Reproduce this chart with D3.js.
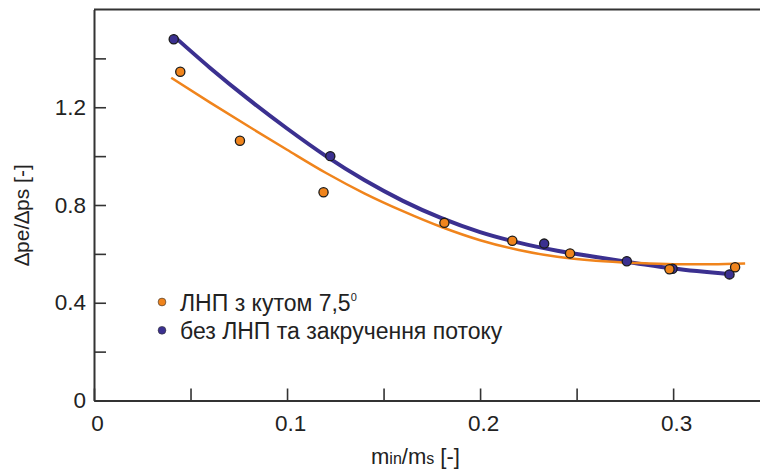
<!DOCTYPE html>
<html lang="uk">

<head>
  <meta charset="UTF-8">
  <script src="https://d3js.org/d3.v7.min.js"></script>
  <title>Δpe/Δps</title>
  <style>
    body {
      margin: 0;
      background: #fff;
    }

    text {
      font-family: "Liberation Sans", Arial, sans-serif;
      fill: #222;
    }
  </style>
</head>

<body>
  <div id="chart"></div>
  <script>
    // Axis ticks
    const xTicks = [0, 0.05, 0.1, 0.15, 0.2, 0.25, 0.3];
    const xLabels = ["0", "", "0.1", "", "0.2", "", "0.3"];
    const yTicks = [0, 0.2, 0.4, 0.6, 0.8, 1.0, 1.2, 1.4];
    const yLabels = ["0", "", "0.4", "", "0.8", "", "1.2", ""];

    // Measured points: ЛНП з кутом 7,5°
    const swirlX = [0.0447, 0.0756, 0.1189, 0.1815, 0.2167, 0.2466, 0.2981, 0.3321];
    const swirlY = [1.345, 1.063, 0.852, 0.727, 0.654, 0.602, 0.537, 0.545];

    // Measured points: без ЛНП та закручення потоку
    const plainX = [0.0413, 0.1224, 0.2332, 0.276, 0.2997, 0.3292];
    const plainY = [1.478, 1.000, 0.642, 0.570, 0.539, 0.516];

    // Trend lines
    const swirlFitX = [0.04, 0.06, 0.08, 0.10, 0.12, 0.14, 0.16, 0.18, 0.20, 0.22, 0.24, 0.26, 0.28, 0.30, 0.32, 0.3373];
    const swirlFitY = [1.321, 1.220, 1.122, 1.026, 0.932, 0.848, 0.775, 0.710, 0.656, 0.616, 0.588, 0.572, 0.563, 0.558, 0.558, 0.561];
    const plainFitX = [0.0415, 0.06, 0.08, 0.10, 0.12, 0.14, 0.16, 0.18, 0.20, 0.22, 0.24, 0.26, 0.28, 0.30, 0.3295];
    const plainFitY = [1.490, 1.362, 1.233, 1.113, 1.001, 0.902, 0.817, 0.746, 0.689, 0.646, 0.613, 0.587, 0.563, 0.540, 0.517];

    const seriesNames = ["ЛНП з кутом 7,5", "без ЛНП та закручення потоку"];
    const orange = "#f0841c";
    const blue = "#3b3090";

    const width = 760;
    const height = 470;

    const svg = d3.select("#chart")
      .append("svg")
      .attr("width", width)
      .attr("height", height);

    const x = d3.scaleLinear().domain([0, 0.345]).range([94, 760]);
    const y = d3.scaleLinear().domain([0, 1.6]).range([400.5, 9.5]);

    // Axes with inward ticks
    const xAxis = svg.append("g")
      .attr("transform", `translate(0,${y(0)})`)
      .call(d3.axisBottom(x)
        .tickValues(xTicks)
        .tickFormat((d, i) => xLabels[i])
        .tickSize(-12)
        .tickSizeOuter(0)
        .tickPadding(15));

    const yAxis = svg.append("g")
      .attr("transform", `translate(${x(0)},0)`)
      .call(d3.axisLeft(y)
        .tickValues(yTicks)
        .tickFormat((d, i) => yLabels[i])
        .tickSize(-12)
        .tickSizeOuter(0)
        .tickPadding(8));

    [xAxis, yAxis].forEach(g => {
      g.select(".domain").attr("stroke", "#333").attr("stroke-width", 2);
      g.selectAll(".tick line").attr("stroke", "#333").attr("stroke-width", 1.6);
      g.selectAll(".tick text")
        .style("font-size", "22.5px")
        .attr("fill", "#222");
    });
    xAxis.selectAll(".tick text").attr("dx", 3);

    // top frame line
    svg.append("line")
      .attr("x1", x(0))
      .attr("x2", width)
      .attr("y1", y(1.6))
      .attr("y2", y(1.6))
      .attr("stroke", "#333")
      .attr("stroke-width", 2);

    // Trend lines
    const line = d3.line()
      .x(d => x(d[0]))
      .y(d => y(d[1]))
      .curve(d3.curveMonotoneX);

    svg.append("path")
      .datum(d3.zip(plainFitX, plainFitY))
      .attr("d", line)
      .attr("fill", "none")
      .attr("stroke", blue)
      .attr("stroke-width", 4)
      .attr("stroke-linecap", "round");

    svg.append("path")
      .datum(d3.zip(swirlFitX, swirlFitY))
      .attr("d", line)
      .attr("fill", "none")
      .attr("stroke", orange)
      .attr("stroke-width", 2.5);

    // Points
    svg.append("g")
      .selectAll("circle")
      .data(d3.zip(plainX, plainY))
      .enter()
      .append("circle")
      .attr("cx", d => x(d[0]))
      .attr("cy", d => y(d[1]))
      .attr("r", 4.6)
      .attr("fill", blue)
      .attr("stroke", "#1a1a1a")
      .attr("stroke-width", 1.3);

    svg.append("g")
      .selectAll("circle")
      .data(d3.zip(swirlX, swirlY))
      .enter()
      .append("circle")
      .attr("cx", d => x(d[0]))
      .attr("cy", d => y(d[1]))
      .attr("r", 4.6)
      .attr("fill", orange)
      .attr("stroke", "#1a1a1a")
      .attr("stroke-width", 1.3);

    // Axis titles
    const xTitle = svg.append("text")
      .attr("x", 371)
      .attr("y", 464)
      .style("font-size", "22px");
    xTitle.append("tspan").text("m");
    xTitle.append("tspan").style("font-size", "16px").text("in");
    xTitle.append("tspan").text("/m");
    xTitle.append("tspan").style("font-size", "16px").text("s");
    xTitle.append("tspan").text(" [-]");

    svg.append("text")
      .attr("transform", "translate(29,215) rotate(-90)")
      .attr("text-anchor", "middle")
      .style("font-size", "21px")
      .text("∆pe/∆ps [-]");

    // Legend
    const legend = svg.append("g");
    const legendColors = [orange, blue];

    legend.selectAll("circle")
      .data(seriesNames)
      .enter()
      .append("circle")
      .attr("cx", 162)
      .attr("cy", (d, i) => 302 + i * 28.3)
      .attr("r", 3.9)
      .attr("fill", (d, i) => legendColors[i])
      .attr("stroke", "#333")
      .attr("stroke-width", 0.6);

    const legendText = legend.selectAll("text")
      .data(seriesNames)
      .enter()
      .append("text")
      .attr("x", 180)
      .attr("y", (d, i) => 310.5 + i * 28.3)
      .style("font-size", "23px")
      .text(d => d);

    // degree mark after the angle
    legendText.filter((d, i) => i === 0)
      .append("tspan")
      .attr("dy", -10)
      .style("font-size", "11px")
      .text("0");
  </script>
</body>

</html>
